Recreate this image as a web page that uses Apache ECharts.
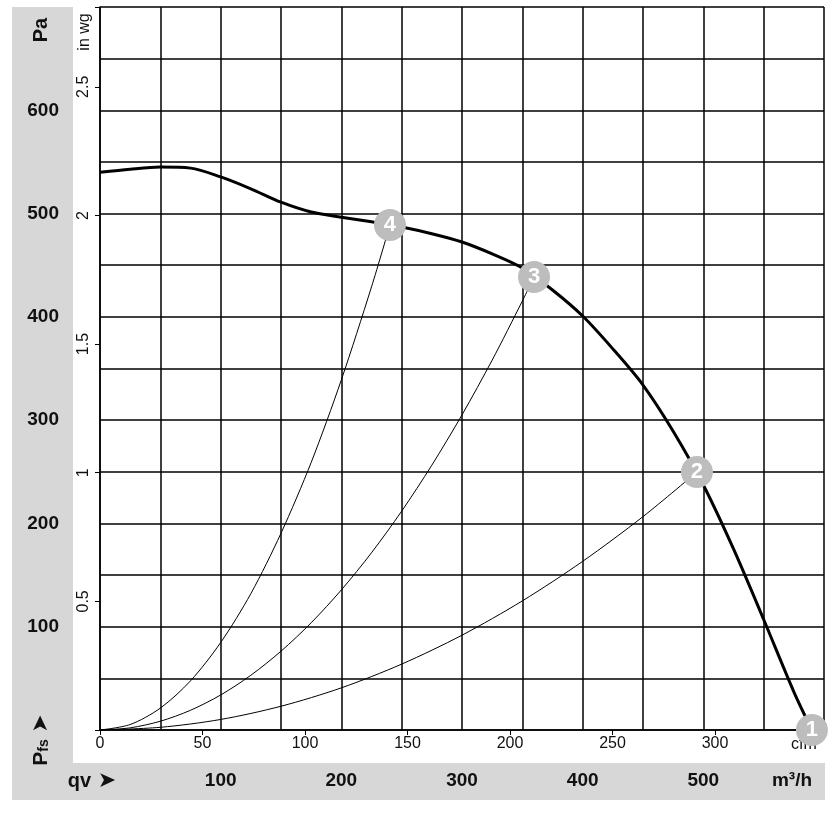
<!DOCTYPE html>
<html>
<head>
<meta charset="utf-8">
<script src="https://cdn.jsdelivr.net/npm/echarts@6/dist/echarts.min.js"></script>
<style>
html,body{margin:0;padding:0;background:#fff;}
#chart{width:835px;height:814px;}
</style>
</head>
<body>
<div id="chart"></div>
<script>
// ---- data (flow in m³/h, pressure in Pa) ----
var fanCurveFlow     = [0, 25, 50, 75, 100, 125, 150, 175, 200, 225, 250, 275, 300, 325, 350, 375, 400, 425, 450, 475, 500, 525, 550, 575, 590];
var fanCurvePressure = [540, 543, 545, 544, 535.5, 524, 511, 501.5, 496.5, 492, 487, 480.5, 472.5, 461, 447.3, 426, 400.8, 369, 334, 289.3, 237.2, 175.3, 107, 37, 0];

var sys4Flow     = [0, 25, 50, 75, 100, 125, 150, 175, 200, 225, 240.3];
var sys4Pressure = [0, 5.3, 21.2, 47.6, 84.7, 132, 190.5, 259, 339, 429, 489];

var sys3Flow     = [0, 25, 50, 75, 100, 125, 150, 175, 200, 225, 250, 275, 300, 325, 350, 359.7];
var sys3Pressure = [0, 2.1, 8.5, 19.1, 33.9, 53, 76.3, 103.8, 135.6, 171.6, 211.9, 256.4, 305.1, 358.1, 415.3, 438.6];

var sys2Flow     = [0, 50, 100, 150, 200, 250, 300, 350, 400, 450, 494.7];
var sys2Pressure = [0, 2.6, 10.2, 23, 40.8, 63.8, 91.8, 125, 163.3, 206.6, 249.8];

var markerIds      = ['1', '2', '3', '4'];
var markerFlow     = [590, 494.7, 359.7, 240.3];
var markerPressure = [0, 249.8, 438.6, 488.9];

var paTickLabels   = [100, 200, 300, 400, 500, 600];
var inwgTickLabels = [0.5, 1, 1.5, 2, 2.5];
var m3hTickLabels  = [100, 200, 300, 400, 500];
var cfmTickLabels  = [0, 50, 100, 150, 200, 250, 300];

var flowMax = 600, pressureMax = 700;
var PA_PER_INWG = 249.089, M3H_PER_CFM = 1.699;

function pairs(xs, ys) { return xs.map(function (x, i) { return [x, ys[i]]; }); }

var FONT = '"Liberation Sans", Arial, sans-serif';
var chart = echarts.init(document.getElementById('chart'), null, {renderer: 'canvas'});

function lineSeries(xs, ys, w) {
  return {
    type: 'line', xAxisIndex: 0, yAxisIndex: 0,
    data: pairs(xs, ys), showSymbol: false, smooth: 0.3,
    lineStyle: {color: '#000', width: w}, z: 3, silent: true, animation: false
  };
}

var option = {
  animation: false,
  backgroundColor: '#fff',
  textStyle: {fontFamily: FONT},
  grid: {left: 100, top: 7, width: 724, height: 723, containLabel: false},
  xAxis: [{
    type: 'value', min: 0, max: flowMax, interval: 50, position: 'bottom', offset: 0,
    axisLine: {show: true, lineStyle: {color: '#000', width: 1.5}},
    axisTick: {show: false},
    splitLine: {show: true, lineStyle: {color: '#000', width: 1.5}},
    axisLabel: {
      show: true, margin: 41, fontFamily: FONT, fontWeight: 'bold', fontSize: 19, color: '#111',
      formatter: function (v) { return m3hTickLabels.indexOf(v) >= 0 ? String(v) : ''; }
    }
  }, {
    type: 'value', min: 0, max: flowMax / M3H_PER_CFM, interval: 50, position: 'bottom', offset: 0,
    axisLine: {show: false},
    axisTick: {show: true, length: 5, lineStyle: {color: '#000', width: 1}},
    splitLine: {show: false},
    axisLabel: {
      show: true, margin: 6, fontFamily: FONT, fontSize: 16, color: '#111',
      formatter: function (v) { return cfmTickLabels.indexOf(v) >= 0 ? String(v) : ''; }
    }
  }],
  yAxis: [{
    type: 'value', min: 0, max: pressureMax, interval: 50, position: 'left', offset: 0,
    axisLine: {show: true, lineStyle: {color: '#000', width: 1.5}},
    axisTick: {show: false},
    splitLine: {show: true, lineStyle: {color: '#000', width: 1.5}},
    axisLabel: {
      show: true, margin: 41, fontFamily: FONT, fontWeight: 'bold', fontSize: 19, color: '#111',
      formatter: function (v) { return paTickLabels.indexOf(v) >= 0 ? String(v) : ''; }
    }
  }, {
    type: 'value', min: 0, max: pressureMax / PA_PER_INWG, interval: 0.5, position: 'left', offset: 0,
    axisLine: {show: false},
    axisTick: {show: true, length: 5, lineStyle: {color: '#000', width: 1}},
    splitLine: {show: false},
    axisLabel: {
      show: true, margin: 8, rotate: 90, fontFamily: FONT, fontSize: 16, color: '#111',
      formatter: function (v) { return inwgTickLabels.indexOf(v) >= 0 ? String(v) : ''; }
    }
  }],
  graphic: [
    {type: 'rect', shape: {x: 12, y: 7, width: 61, height: 793}, style: {fill: '#d7d7d7'}, z: -10, silent: true},
    {type: 'rect', shape: {x: 12, y: 763, width: 813, height: 37}, style: {fill: '#d7d7d7'}, z: -10, silent: true},
    {type: 'text', x: 41, y: 30, rotation: Math.PI / 2,
      style: {text: 'Pa', font: 'bold 20px ' + FONT, fill: '#111', align: 'center', verticalAlign: 'middle'}},
    {type: 'text', x: 85, y: 32, rotation: Math.PI / 2,
      style: {text: 'in wg', font: '16px ' + FONT, fill: '#111', align: 'center', verticalAlign: 'middle'}},
    {type: 'text', x: 41, y: 740, rotation: Math.PI / 2,
      style: {text: '{p|P}{s|fs}  {a|➤}', align: 'center', verticalAlign: 'middle',
        rich: {p: {font: 'bold 21px ' + FONT, fill: '#111'},
               s: {font: 'bold 14px ' + FONT, fill: '#111', padding: [7, 0, 0, 0]},
               a: {font: 'bold 22px "DejaVu Sans"', fill: '#111'}}}},
    {type: 'text', x: 92, y: 781,
      style: {text: '{q|qv}  {a|➤}', align: 'center', verticalAlign: 'middle',
        rich: {q: {font: 'bold 20px ' + FONT, fill: '#111'},
               a: {font: 'bold 22px "DejaVu Sans"', fill: '#111'}}}},
    {type: 'text', x: 792, y: 781,
      style: {text: 'm³/h', font: 'bold 19px ' + FONT, fill: '#111', align: 'center', verticalAlign: 'middle'}},
    {type: 'text', x: 804, y: 745,
      style: {text: 'cfm', font: '16px ' + FONT, fill: '#111', align: 'center', verticalAlign: 'middle'}, z: 1}
  ],
  series: [
    lineSeries(sys4Flow, sys4Pressure, 1),
    lineSeries(sys3Flow, sys3Pressure, 1),
    lineSeries(sys2Flow, sys2Pressure, 1),
    lineSeries(fanCurveFlow, fanCurvePressure, 3),
    {
      type: 'scatter', xAxisIndex: 0, yAxisIndex: 0, clip: false, silent: true, z: 10,
      data: markerFlow.map(function (x, i) { return [x, markerPressure[i], markerIds[i]]; }),
      symbol: 'circle', symbolSize: 32,
      itemStyle: {color: '#bdbdbd', opacity: 1},
      label: {show: true, position: 'inside', formatter: function (p) { return p.value[2]; },
        color: '#fff', fontFamily: FONT, fontWeight: 'bold', fontSize: 22}
    }
  ]
};
chart.setOption(option);
</script>
</body>
</html>
